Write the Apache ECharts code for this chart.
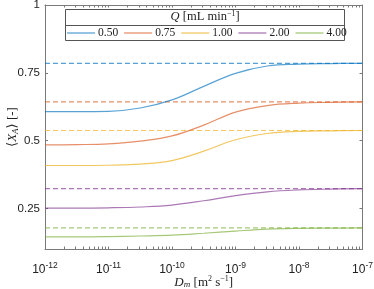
<!DOCTYPE html>
<html><head><meta charset="utf-8">
<script src="https://cdn.jsdelivr.net/npm/echarts@6/dist/echarts.min.js"></script>
<style>html,body{margin:0;padding:0;background:#fff}#c{width:374px;height:289px}</style>
</head><body><div id="c"></div>
<script>
// Diffusivity D_m [m^2 s^-1] sample points (log spaced)
var dm = [1e-12, 3.16e-12, 1e-11, 3.16e-11, 1e-10, 3.16e-10, 1e-9, 3.16e-9, 1e-8, 3.16e-8, 1e-7];
var flowRates = ['0.50', '0.75', '1.00', '2.00', '4.00'];
var xa050 = [0.607, 0.607, 0.608, 0.620, 0.650, 0.700, 0.748, 0.775, 0.782, 0.784, 0.785];
var xa075 = [0.484, 0.485, 0.488, 0.498, 0.517, 0.557, 0.605, 0.629, 0.638, 0.641, 0.643];
var xa100 = [0.408, 0.408, 0.409, 0.413, 0.426, 0.461, 0.503, 0.526, 0.534, 0.536, 0.537];
var xa200 = [0.251, 0.251, 0.252, 0.255, 0.262, 0.278, 0.297, 0.311, 0.318, 0.321, 0.323];
var xa400 = [0.145, 0.145, 0.146, 0.148, 0.151, 0.158, 0.166, 0.173, 0.176, 0.177, 0.178];
var asymptotes = [0.785, 0.643, 0.537, 0.323, 0.178];
var yTicks = [0.25, 0.5, 0.75, 1];
var xDecades = [1e-12, 1e-11, 1e-10, 1e-9, 1e-8, 1e-7];

var colors = ['rgba(0,114,189,0.65)', 'rgba(217,83,25,0.65)', 'rgba(237,177,32,0.7)', 'rgba(126,47,142,0.65)', 'rgba(119,172,48,0.65)'];
var curves = [xa050, xa075, xa100, xa200, xa400];

var minorX = [];
for (var d = -12; d < -7; d++) { for (var k = 1; k <= 9; k++) minorX.push(k * Math.pow(10, d)); }
minorX.push(1e-7);

var serif = '"Liberation Serif", "DejaVu Serif", serif';
var sans = '"Liberation Sans", Arial, sans-serif';
var axisGray = '#7a7a7a';

function xAx(pos, labels) {
  return {
    type: 'log', logBase: 10, min: 1e-12, max: 1e-7, position: pos,
    axisLine: { show: true, onZero: false, lineStyle: { color: axisGray, width: 1 } },
    axisTick: { show: true, inside: true, length: 2.5, customValues: minorX, lineStyle: { color: axisGray } },
    splitLine: { show: false },
    axisLabel: labels ? {
      show: true, customValues: xDecades, margin: 12,
      formatter: function (v) { return '{b|10}{s|' + Math.round(Math.log10(v)) + '}'; },
      rich: { b: { fontFamily: sans, fontSize: 12, color: '#222' }, s: { fontFamily: sans, fontSize: 8.5, color: '#222', padding: [0, 0, 9, 0] } }
    } : { show: false },
    name: labels ? '{i|D}{sub|m} {n|[m}{sup|2}{n| s}{sup|−1}{n|]}' : '',
    nameLocation: 'middle', nameGap: 26, nameMoveOverlap: false,
    nameTextStyle: { rich: {
      i: { fontFamily: serif, fontStyle: 'italic', fontSize: 13, color: '#222' },
      sub: { fontFamily: serif, fontStyle: 'italic', fontSize: 9, color: '#222', padding: [5, 0, 0, 0] },
      n: { fontFamily: serif, fontSize: 13, color: '#222' },
      sup: { fontFamily: serif, fontSize: 8, color: '#222', padding: [0, 0, 7, 0] }
    } }
  };
}
function yAx(pos, labels) {
  return {
    type: 'value', min: 0.1, max: 1, position: pos,
    axisLine: { show: true, onZero: false, lineStyle: { color: axisGray, width: 1 } },
    axisTick: { show: true, inside: true, length: 3, customValues: yTicks, lineStyle: { color: axisGray } },
    splitLine: { show: false },
    axisLabel: labels ? { show: true, customValues: yTicks, margin: 5, fontFamily: sans, fontSize: 11.5, color: '#222',
      formatter: function (v) { return String(Math.round(v * 100) / 100); } } : { show: false },
    name: labels ? '{n|⟨}{i|X}{sub|A}{n|⟩ [-]}' : '',
    nameLocation: 'middle', nameGap: 25, nameMoveOverlap: false,
    nameTextStyle: { rich: {
      i: { fontFamily: serif, fontStyle: 'italic', fontSize: 13, color: '#222' },
      sub: { fontFamily: serif, fontStyle: 'italic', fontSize: 9, color: '#222', padding: [5, 0, 0, 0] },
      n: { fontFamily: serif, fontSize: 13, color: '#222' }
    } }
  };
}

var series = [];
flowRates.forEach(function (q, i) {
  series.push({
    name: q, type: 'line', smooth: 0.4, symbol: 'none', xAxisIndex: 0, yAxisIndex: 0,
    lineStyle: { color: colors[i], width: 1.2 }, itemStyle: { color: colors[i] },
    data: dm.map(function (x, j) { return [x, curves[i][j]]; }), z: 3
  });
  series.push({
    name: 'asym ' + q, type: 'line', symbol: 'none', xAxisIndex: 0, yAxisIndex: 0,
    lineStyle: { color: colors[i], width: 1.2, type: [5, 3] },
    data: [[dm[0], asymptotes[i]], [dm[dm.length - 1], asymptotes[i]]], z: 2
  });
});

var chart = echarts.init(document.getElementById('c'), null, { renderer: 'canvas' });
chart.setOption({
  animation: false,
  backgroundColor: '#fff',
  grid: { left: 45, right: 11.5, top: 5, bottom: 40, show: false, containLabel: false, outerBoundsMode: 'none' },
  xAxis: [xAx('bottom', true), xAx('top', false)],
  yAxis: [yAx('left', true), yAx('right', false)],
  legend: {
    data: flowRates, left: 67, top: 27, width: 340, orient: 'horizontal', z: 20, zlevel: 0,
    icon: 'rect', itemWidth: 28, itemHeight: 1.3, itemGap: 6, padding: 0,
    textStyle: { fontFamily: serif, fontSize: 11.5, color: '#222', padding: [0, 0, 0, -2] }
  },
  graphic: [
    { type: 'rect', shape: { x: 65.5, y: 9.5, width: 279, height: 31 }, style: { fill: '#fff', stroke: '#555', lineWidth: 1 }, z: 1, zlevel: 0, silent: true },
    { type: 'line', shape: { x1: 65.5, y1: 25.5, x2: 344.5, y2: 25.5 }, style: { stroke: '#555', lineWidth: 1 }, z: 2, silent: true },
    { type: 'text', x: 205, y: 10, z: 3, silent: true,
      style: { text: '{i|Q} {n|[mL min}{sup|−1}{n|]}', textAlign: 'center',
        rich: { i: { fontFamily: serif, fontStyle: 'italic', fontSize: 12.5, fill: '#222' },
                n: { fontFamily: serif, fontSize: 12.5, fill: '#222' },
                sup: { fontFamily: serif, fontSize: 8, fill: '#222', padding: [0, 0, 6, 0] } } } }
  ],
  series: series
});
</script></body></html>
